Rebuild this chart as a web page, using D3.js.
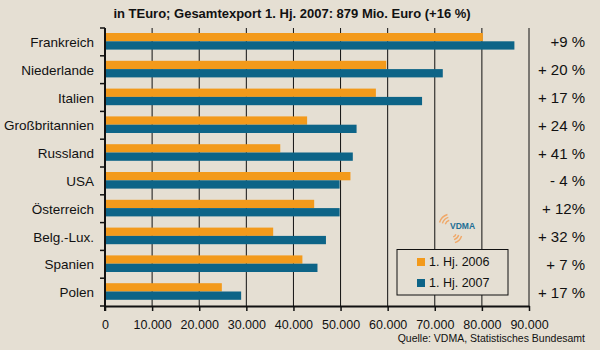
<!DOCTYPE html>
<html><head><meta charset="utf-8">
<script src="https://cdn.jsdelivr.net/npm/d3@7"></script>
<style>body{margin:0;background:#e5dfd3;} svg{display:block;}</style>
</head><body>
<svg id="c" width="600" height="350"></svg>
<script>
const categories = ["Frankreich","Niederlande","Italien","Großbritannien","Russland","USA","Österreich","Belg.-Lux.","Spanien","Polen"];
const values2006 = [80200,59700,57500,42900,37200,52100,44400,35700,41900,24800];
const values2007 = [86900,71700,67300,53400,52600,49800,49800,46900,45100,28900];
const changeLabels = ["+9 %","+ 20 %","+ 17 %","+ 24 %","+ 41 %","- 4 %","+ 12%","+ 32 %","+ 7 %","+ 17 %"];
const tickValues = [0,10000,20000,30000,40000,50000,60000,70000,80000,90000];
const seriesNames = ["1. Hj. 2006","1. Hj. 2007"];
const title = "in TEuro; Gesamtexport 1. Hj. 2007: 879 Mio. Euro (+16 %)";
const source = "Quelle: VDMA, Statistisches Bundesamt";

const colors = ["#f39a1b","#0d6487"];
const svg = d3.select("#c");
const W=600,H=350;
svg.append("rect").attr("width",W).attr("height",H).attr("fill","#e5dfd3");
const L=105, R=529, T=28, B=306;
const x = d3.scaleLinear().domain([0,90000]).range([L,R]);
const y = d3.scaleBand().domain(categories).range([T,B]);
const font = "Liberation Sans, Arial, sans-serif";

svg.append("text").attr("x",292).attr("y",18).attr("text-anchor","middle")
  .attr("font-family",font).attr("font-weight","bold").attr("font-size",13).attr("fill","#111").text(title);

// gridlines
svg.append("g").selectAll("line").data(tickValues.slice(1)).join("line")
  .attr("x1",d=>x(d)).attr("x2",d=>x(d)).attr("y1",T).attr("y2",B)
  .attr("stroke","#111").attr("stroke-width",1);

// bars
const bh = 8.3;
const gb = svg.append("g");
categories.forEach((c,i)=>{
  const y0 = y(c)+5;
  gb.append("rect").attr("x",x(0)).attr("y",y0).attr("width",x(values2006[i])-x(0)).attr("height",bh).attr("fill",colors[0]);
  gb.append("rect").attr("x",x(0)).attr("y",y0+bh).attr("width",x(values2007[i])-x(0)).attr("height",bh).attr("fill",colors[1]);
});

// x axis
const xa = svg.append("g").attr("transform",`translate(0,${B})`)
  .call(d3.axisBottom(x).tickValues(tickValues).tickSize(5).tickSizeOuter(0)
    .tickFormat(d=>d3.format(",")(d).replace(/,/g,".")));
xa.select(".domain").attr("stroke","#111").attr("stroke-width",2);
xa.selectAll(".tick line").attr("stroke","#111").attr("stroke-width",1.5);
xa.selectAll("text").attr("font-family",font).attr("font-size",12.5).attr("fill","#111").attr("dy","1.2em");

// y axis
svg.append("line").attr("x1",L).attr("x2",L).attr("y1",T).attr("y2",B+5).attr("stroke","#111").attr("stroke-width",2);
const bounds = categories.map(c=>y(c)).concat([B]);
svg.append("g").selectAll("line").data(bounds).join("line")
  .attr("x1",L-5).attr("x2",L).attr("y1",d=>d).attr("y2",d=>d).attr("stroke","#111").attr("stroke-width",1.5);
svg.append("g").selectAll("text").data(categories).join("text")
  .attr("x",94).attr("y",d=>y(d)+y.bandwidth()/2+5).attr("text-anchor","end")
  .attr("font-family",font).attr("font-size",13.5).attr("fill","#111").text(d=>d);

// change labels
svg.append("g").selectAll("text").data(changeLabels).join("text")
  .attr("x",585).attr("y",(d,i)=>y(categories[i])+y.bandwidth()/2+5.5).attr("text-anchor","end")
  .attr("font-family",font).attr("font-size",15).attr("fill","#111").text(d=>d);

// legend
const lg = svg.append("g");
lg.append("rect").attr("x",397).attr("y",249.5).attr("width",111).attr("height",45.5)
  .attr("fill","#e5dfd3").attr("stroke","#111").attr("stroke-width",1);
seriesNames.forEach((s,i)=>{
  const yy = 258+i*21;
  lg.append("rect").attr("x",417).attr("y",yy).attr("width",8).attr("height",8).attr("fill",colors[i]);
  lg.append("text").attr("x",429).attr("y",yy+8).attr("font-family",font).attr("font-size",12.5).attr("fill","#111").text(s);
});

// VDMA logo
const logo = svg.append("g");
[6,9,12].forEach(r=>{
  logo.append("path").attr("d",d3.arc()({innerRadius:r-0.7,outerRadius:r+0.7,startAngle:-Math.PI/2+0.3,endAngle:-0.3}))
    .attr("transform","translate(451,226)").attr("fill","#f0a868");
});
[4,7,10].forEach(r=>{
  logo.append("path").attr("d",d3.arc()({innerRadius:r-0.7,outerRadius:r+0.7,startAngle:Math.PI/2+0.3,endAngle:Math.PI-0.3}))
    .attr("transform","translate(452,233)").attr("fill","#f0a868");
});
logo.append("text").attr("x",450).attr("y",228.5).attr("font-family",font).attr("font-weight","bold")
  .attr("font-size",8.5).attr("fill","#1e6f95").text("VDMA");

svg.append("text").attr("x",585).attr("y",342).attr("text-anchor","end")
  .attr("font-family",font).attr("font-size",10.5).attr("fill","#111").text(source);
</script>
</body></html>
